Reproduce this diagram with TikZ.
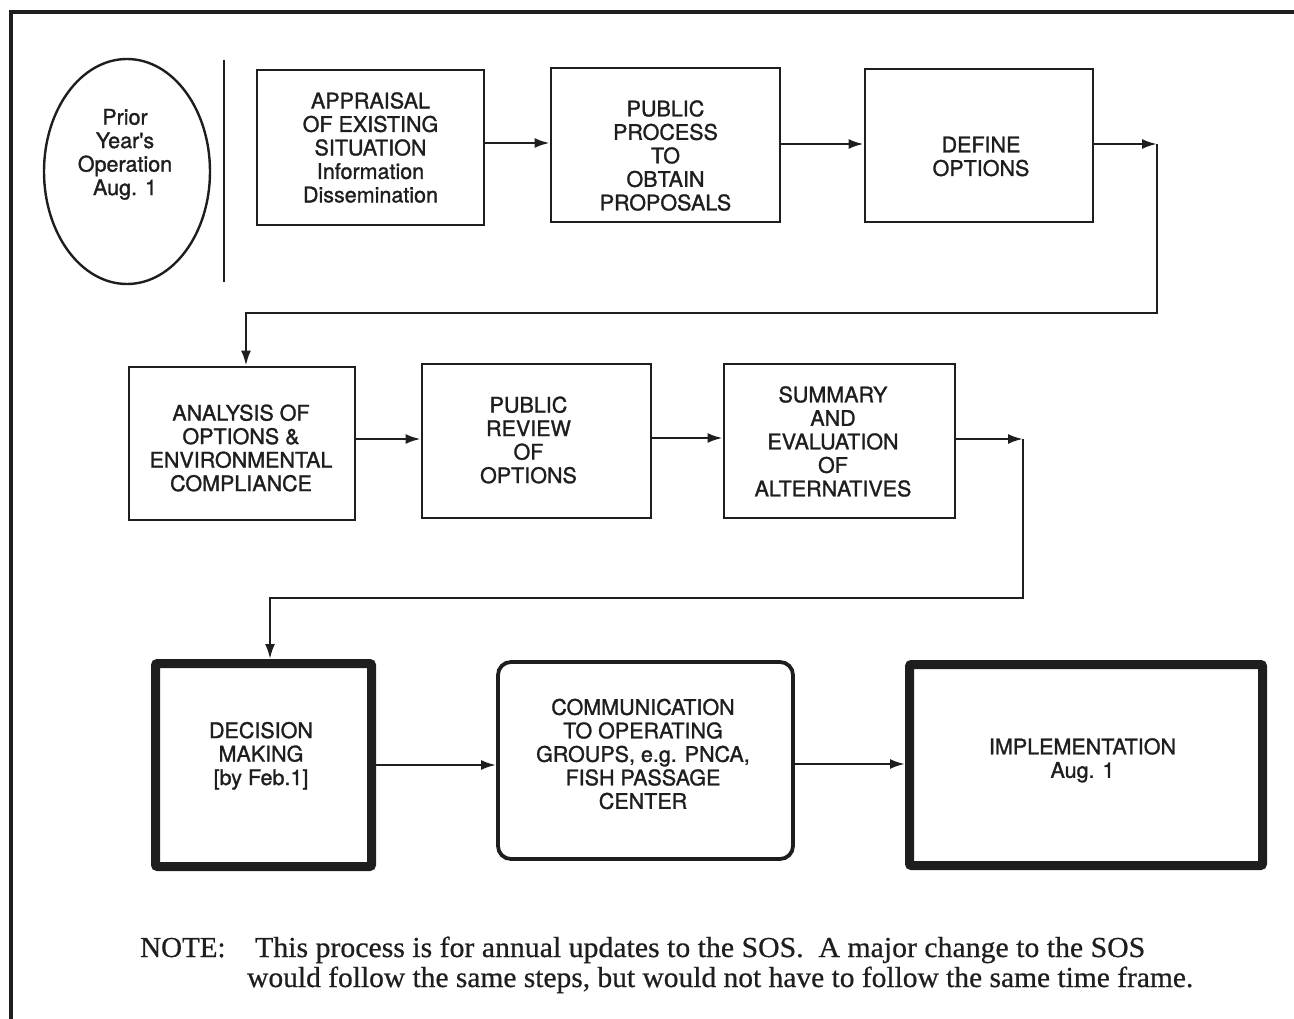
\documentclass[tikz,border=0pt]{standalone}
\usepackage{fontspec}
\usepackage{graphicx}
\setmainfont{TeX Gyre Heros}
\newfontfamily\boxfont{TeX Gyre Heros}[FakeBold=1.3]
\newfontfamily\notefont{Liberation Serif}[FakeBold=0.6]
\usetikzlibrary{arrows.meta,shapes.geometric}
\definecolor{ink}{HTML}{1E1E1E}

\tikzset{
  flowbox/.style={draw=ink, line width=2.8pt, inner sep=0pt},
  heavybox/.style={draw=ink, line width=9pt, inner sep=0pt, rounded corners=2pt},
  roundbox/.style={draw=ink, line width=3.8pt, inner sep=0pt, rounded corners=13pt},
  boxtext/.style={text=ink, align=center, inner sep=0pt,
    font=\boxfont\fontsize{21.5}{23.5}\selectfont},
  flow/.style={draw=ink, line width=2.4pt, -{Latex[length=15pt,width=10pt]}},
  rule/.style={draw=ink, line width=2.8pt},
  notetext/.style={text=ink, inner sep=0pt, anchor=base west,
    font=\notefont\fontsize{29}{30}\selectfont},
}

\begin{document}
\begin{tikzpicture}[x=1pt, y=-1pt]
  \useasboundingbox (0,0) rectangle (1294,1019);

  % page frame (open to the right and bottom)
  \draw[ink, line width=3.2pt] (11,1030) -- (11,12) -- (1310,12);

  % start of the yearly cycle
  \node[draw=ink, line width=2.4pt, ellipse, inner sep=0pt,
        minimum width=166pt, minimum height=225pt] (prior) at (127,171.5) {};
  \node[boxtext] (priortext) at (125,152)
    {Prior\\Year's\\Operation\\\smash{Aug. 1}};
  \draw[rule] (224,60) -- (224,282);

  % first row
  \node[flowbox, minimum width=227pt, minimum height=155pt] (b1) at (370.5,147.5) {};
  \node[boxtext] (t1) at (370.5,147.5)
    {APPRAISAL\\OF EXISTING\\SITUATION\\Information\\Dissemination};

  \node[flowbox, minimum width=229pt, minimum height=154pt] (b2) at (665.5,145) {};
  \node[boxtext] (t2) at (665.5,155.5)
    {PUBLIC\\PROCESS\\TO\\OBTAIN\\PROPOSALS};

  \node[flowbox, minimum width=228pt, minimum height=153pt] (b3) at (979,145.5) {};
  \node[boxtext] (t3) at (981,156.5) {DEFINE\\OPTIONS};

  % second row
  \node[flowbox, minimum width=226pt, minimum height=153pt] (b4) at (242,443.5) {};
  \node[boxtext] (t4) at (241,448)
    {ANALYSIS OF\\OPTIONS \&\\ENVIRONMENTAL\\COMPLIANCE};

  \node[flowbox, minimum width=229pt, minimum height=154pt] (b5) at (536.5,441) {};
  \node[boxtext] (t5) at (528.5,440) {PUBLIC\\REVIEW\\OF\\OPTIONS};

  \node[flowbox, minimum width=231pt, minimum height=154pt] (b6) at (839.5,441) {};
  \node[boxtext] (t6) at (833,441.5)
    {SUMMARY\\AND\\EVALUATION\\OF\\ALTERNATIVES};

  % third row
  \node[heavybox, minimum width=216pt, minimum height=203pt] (b7) at (263.5,765) {};
  \node[boxtext] (t7) at (261,753.5) {DECISION\\MAKING\\\smash{[by Feb.1]}};

  \node[roundbox, minimum width=295pt, minimum height=197pt] (b8) at (645.5,760.5) {};
  \node[boxtext] (t8) at (643,754)
    {COMMUNICATION\\TO OPERATING\\GROUPS, e.g. PNCA,\\FISH PASSAGE\\CENTER};

  \node[heavybox, minimum width=353pt, minimum height=201pt] (b9) at (1086,765) {};
  \node[boxtext] (t9) at (1082.5,758) {IMPLEMENTATION\\\smash{Aug. 1}};

  % connector levels and bends
  \coordinate (y12) at (0,143);
  \coordinate (y23) at (0,144);
  \coordinate (y45) at (0,439);
  \coordinate (y56) at (0,438);
  \coordinate (y78) at (0,765);
  \coordinate (y89) at (0,764);
  \coordinate (c1) at (1157,144);
  \coordinate (c1a) at (1157,313);
  \coordinate (c1b) at (246,313);
  \coordinate (c2) at (1023,439);
  \coordinate (c2a) at (1023,598);
  \coordinate (c2b) at (270,598);

  % connectors
  \draw[flow] (b1.east |- y12) -- (b2.west |- y12);
  \draw[flow] (b2.east |- y23) -- (b3.west |- y23);
  \draw[flow] (b3.east |- c1) -- (c1);
  \draw[flow] (c1) -- (c1a) -- (c1b) -- (c1b |- b4.north);

  \draw[flow] (b4.east |- y45) -- (b5.west |- y45);
  \draw[flow] (b5.east |- y56) -- (b6.west |- y56);
  \draw[flow] (b6.east |- c2) -- (c2);
  \draw[flow] (c2) -- (c2a) -- (c2b) -- (c2b |- b7.north);

  \draw[flow] (b7.east |- y78) -- (b8.west |- y78);
  \draw[flow] (b8.east |- y89) -- (b9.west |- y89);

  % footnote
  \node[notetext] (notehead) at (140,957) {NOTE:};
  \node[notetext] (note1) at (255,957)
    {\resizebox{890pt}{\height}{This process is for annual updates to the SOS.\ \ A major change to the SOS}};
  \node[notetext] (note2) at (247,987)
    {\resizebox{946pt}{\height}{would follow the same steps, but would not have to follow the same time frame.}};
\end{tikzpicture}
\end{document}
